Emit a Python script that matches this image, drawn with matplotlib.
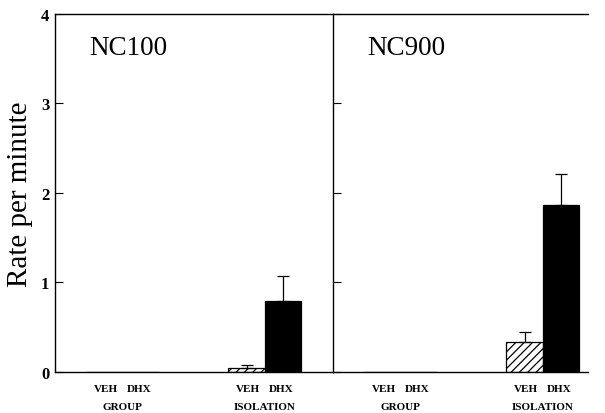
import matplotlib.pyplot as plt
from matplotlib.transforms import blended_transform_factory

plt.rcParams['font.family'] = ['Liberation Serif', 'DejaVu Serif']
plt.rcParams['hatch.linewidth'] = 0.9

panels = ["NC100", "NC900"]
groups = ["GROUP", "ISOLATION"]
drugs = ["VEH", "DHX"]

# rate per minute, [group, isolation]
veh_mean = [[0.0, 0.05], [0.0, 0.34]]
veh_err = [[0.0, 0.03], [0.0, 0.11]]
dhx_mean = [[0.0, 0.79], [0.0, 1.87]]
dhx_err = [[0.0, 0.28], [0.0, 0.34]]

centers = [1.85, 5.75]

fig = plt.figure(figsize=(6.05, 4.14), dpi=100)
ax1 = fig.add_axes([55 / 605, 0.099, 278 / 605, 0.865])
ax2 = fig.add_axes([333 / 605, 0.099, 255 / 605, 0.865])

for i, ax in enumerate([ax1, ax2]):
    veh_x = [c - 0.5 for c in centers]
    dhx_x = [c + 0.5 for c in centers]
    ax.bar(veh_x, veh_mean[i], width=1.0, color='white', edgecolor='black',
           hatch='////', linewidth=0.9)
    ax.bar(dhx_x, dhx_mean[i], width=1.0, color='black', edgecolor='black',
           linewidth=0.9)
    # only upper error bars, skip zero ones
    for xs, m, e in [(veh_x, veh_mean[i], veh_err[i]), (dhx_x, dhx_mean[i], dhx_err[i])]:
        for x, mm, ee in zip(xs, m, e):
            if ee > 0:
                ax.errorbar(x, mm, yerr=[[0], [ee]], color='black', capsize=4,
                            elinewidth=0.9, capthick=0.9)

    ax.set_ylim(0, 4)
    ax.set_xlim(0, 7.62 if i == 0 else 6.99)
    ax.set_xticks([])
    ax.tick_params(axis='y', direction='in', length=6, width=0.8)
    ax.set_yticks([0, 1, 2, 3, 4])

    trans = blended_transform_factory(ax.transData, ax.transAxes)
    for c, g in zip(centers, groups):
        ax.text(c - 0.45, -0.045, "VEH", transform=trans, ha='center', va='center',
                fontsize=8, fontweight='bold')
        ax.text(c + 0.45, -0.045, "DHX", transform=trans, ha='center', va='center',
                fontsize=8, fontweight='bold')
        ax.text(c, -0.097, g, transform=trans, ha='center', va='center', fontsize=8,
                fontweight='bold')

    ax.text(0.122 if i == 0 else 0.135, 0.905, panels[i], transform=ax.transAxes,
            ha='left', va='center', fontsize=19.5)

    for s in ax.spines.values():
        s.set_linewidth(1.0)

ax1.set_yticklabels(['0', '1', '2', '3', '4'], fontsize=12, fontweight='bold')
ax1.tick_params(axis='y', pad=4)
ax1.set_ylabel("Rate per minute", fontsize=21, labelpad=6)
ax1.spines['right'].set_visible(False)

ax2.set_yticklabels([])
ax2.spines['right'].set_visible(False)

fig.savefig("out.png", dpi=100)
